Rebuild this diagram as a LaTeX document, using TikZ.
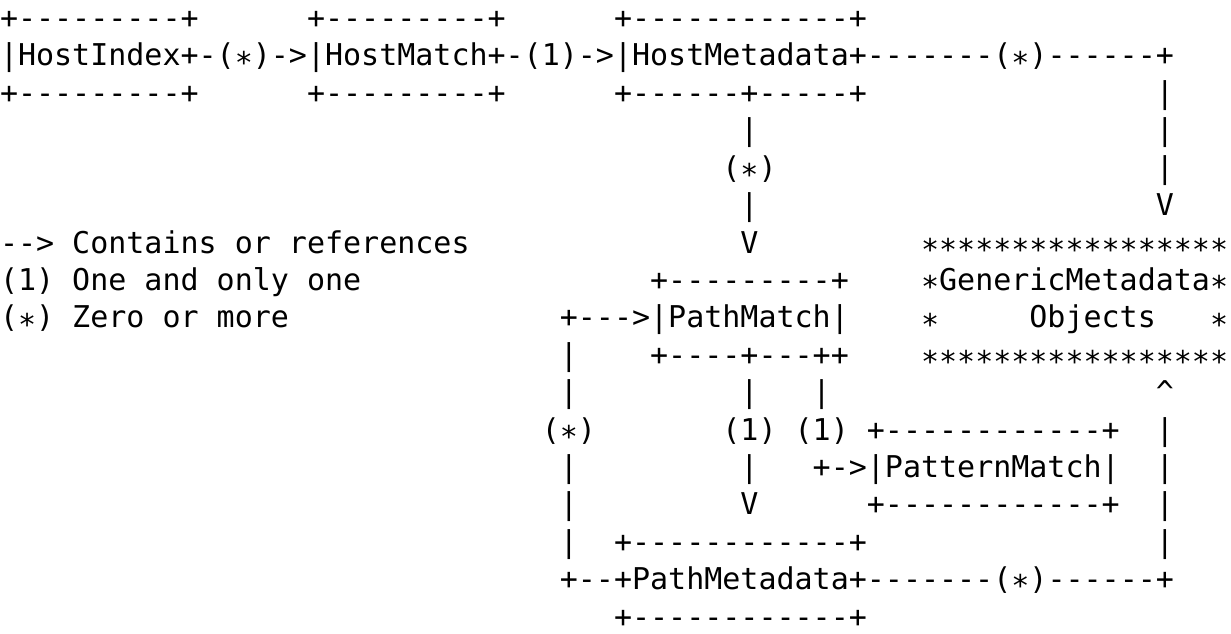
\documentclass[tikz,border=0pt]{standalone}
\usepackage{fontspec}
\usepackage{graphicx}
\setmonofont{DejaVu Sans Mono}
\tikzset{
  asc/.style={anchor=base west, inner sep=0pt, outer sep=0pt, text=black,
    font=\ttfamily\fontsize{30}{36}\selectfont}
}
\newcommand\astk{\makebox[0.602em][c]{\raisebox{-0.24em}{*}}}
\newcommand\astrow{\astk\astk\astk\astk\astk\astk\astk\astk\astk\astk\astk\astk\astk\astk\astk\astk\astk}
\newcommand\asctok[4]{\node[asc] (#1) at ({#3*18.06pt},{-28.6pt-(#2-1)*37.4pt}) {#4};}
\begin{document}
\begin{tikzpicture}
\fill[white] (0,0) rectangle (1231pt,-634pt);
\useasboundingbox (0,0) rectangle (1231pt,-634pt);
% row 1
\asctok{hiTop}{1}{0}{+---------+}
\asctok{hmTop}{1}{17}{+---------+}
\asctok{hmdTop}{1}{34}{+------------+}
% row 2
\asctok{hostindex}{2}{0}{|HostIndex+}
\asctok{c1}{2}{11}{-(\astk)->}
\asctok{hostmatch}{2}{17}{|HostMatch+}
\asctok{c2}{2}{28}{-(1)->}
\asctok{hostmetadata}{2}{34}{|HostMetadata+}
\asctok{c3}{2}{48}{-------(\astk)------+}
% row 3
\asctok{hiBot}{3}{0}{+---------+}
\asctok{hmBot}{3}{17}{+---------+}
\asctok{hmdBot}{3}{34}{+------+-----+}
\asctok{r3a}{3}{64}{|}
% row 4
\asctok{r4a}{4}{41}{|}
\asctok{r4b}{4}{64}{|}
% row 5
\asctok{r5a}{5}{40}{(\astk)}
\asctok{r5b}{5}{64}{|}
% row 6
\asctok{r6a}{6}{41}{|}
\asctok{r6b}{6}{64}{V}
% row 7
\asctok{leg1}{7}{0}{--> Contains or references}
\asctok{r7a}{7}{41}{V}
\asctok{gmTop}{7}{51}{\astrow}
% row 8
\asctok{leg2}{8}{0}{(1) One and only one}
\asctok{pmTop}{8}{36}{+---------+}
\asctok{generic}{8}{51}{\astk GenericMetadata\astk}
% row 9
\asctok{leg3}{9}{0}{(\astk) Zero or more}
\asctok{pathmatch}{9}{31}{+--->|PathMatch|}
\asctok{gmL}{9}{51}{\astk}
\asctok{objects}{9}{57}{Objects}
\asctok{gmR}{9}{67}{\astk}
% row 10
\asctok{r10a}{10}{31}{|}
\asctok{pmBot}{10}{36}{+----+---++}
\asctok{gmBot}{10}{51}{\astrow}
% row 11
\asctok{r11a}{11}{31}{|}
\asctok{r11b}{11}{41}{|}
\asctok{r11c}{11}{45}{|}
\asctok{r11d}{11}{64}{\textasciicircum}
% row 12
\asctok{r12a}{12}{30}{(\astk)}
\asctok{r12b}{12}{40}{(1)}
\asctok{r12c}{12}{44}{(1)}
\asctok{patTop}{12}{48}{+------------+}
\asctok{r12d}{12}{64}{|}
% row 13
\asctok{r13a}{13}{31}{|}
\asctok{r13b}{13}{41}{|}
\asctok{patternmatch}{13}{45}{+->|PatternMatch|}
\asctok{r13c}{13}{64}{|}
% row 14
\asctok{r14a}{14}{31}{|}
\asctok{r14b}{14}{41}{V}
\asctok{patBot}{14}{48}{+------------+}
\asctok{r14c}{14}{64}{|}
% row 15
\asctok{r15a}{15}{31}{|}
\asctok{pmdTop}{15}{34}{+------------+}
\asctok{r15b}{15}{64}{|}
% row 16
\asctok{pathmetadata}{16}{31}{+--+PathMetadata+-------(\astk)------+}
% row 17
\asctok{pmdBot}{17}{34}{+------------+}
\end{tikzpicture}
\end{document}
